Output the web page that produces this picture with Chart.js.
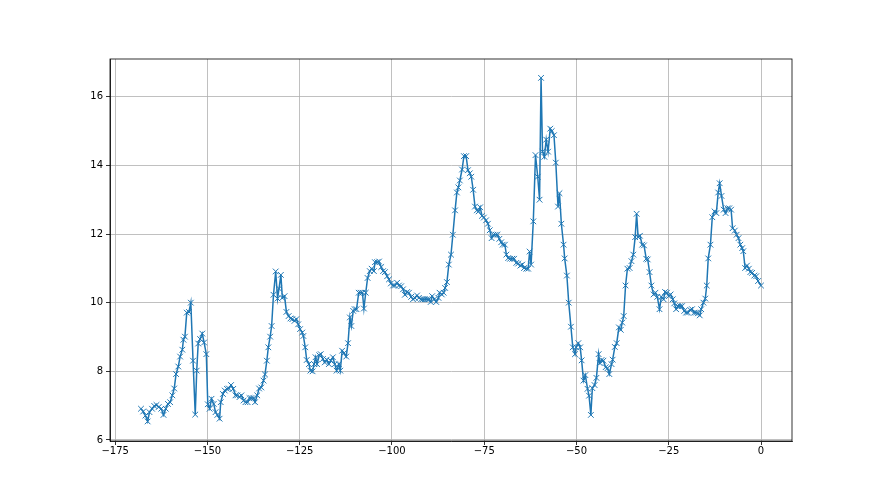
<!DOCTYPE html>
<html>
<head>
<meta charset="utf-8">
<script src="https://cdn.jsdelivr.net/npm/chart.js@4/dist/chart.umd.min.js"></script>
<style>
  html, body { margin: 0; padding: 0; background: #ffffff; }
  canvas { display: block; }
</style>
</head>
<body>
<canvas id="c" width="880" height="495"></canvas>
<script>
const xs = [
  -168, -167.4, -166.8, -166.2, -165.7, -165.0, -164.4, -163.8, -163.2, -162.5,
  -161.9, -161.3, -160.7, -160.1, -159.5, -159.0, -158.5, -157.9, -157.4, -156.8,
  -156.5, -156.1, -155.6, -155.0, -154.5, -153.9, -153.3, -152.9, -152.5, -152.0,
  -151.4, -150.9, -150.3, -149.9, -149.4, -148.9, -148.3, -147.8, -147.3, -146.7,
  -146.4, -145.8, -145.3, -144.7, -144.2, -143.6, -143.0, -142.4, -141.9, -141.3,
  -140.8, -140.2, -139.7, -139.1, -138.6, -138.1, -137.5, -137.1, -136.5, -136.0,
  -135.4, -134.8, -134.4, -133.9, -133.5, -133.0, -132.6, -132.1, -131.5, -131.0,
  -130.6, -130.1, -129.7, -129.1, -128.6, -128.0, -127.5, -127.0, -126.4, -125.9,
  -125.4, -124.9, -124.3, -124.0, -123.5, -123.1, -122.5, -122.1, -121.5, -121.1,
  -120.7, -120.3, -119.7, -119.3, -118.7, -118.2, -117.7, -117.1, -116.6, -116.0,
  -115.5, -115.0, -114.4, -114.0, -113.5, -113.0, -112.4, -111.9, -111.4, -111.0,
  -110.5, -110.1, -109.6, -109.0, -108.5, -108.0, -107.6, -107.1, -106.6, -106.0,
  -105.5, -104.9, -104.6, -104.0, -103.5, -102.9, -102.4, -101.9, -101.3, -100.8,
  -100.3, -99.7, -99.2, -98.6, -98.1, -97.5, -97.0, -96.5, -95.9, -95.4,
  -94.8, -94.3, -93.8, -93.2, -92.7, -92.1, -91.6, -91.1, -90.5, -90.0,
  -89.5, -89.1, -88.5, -88.0, -87.4, -87.1, -86.5, -86.0, -85.6, -85.1,
  -84.6, -84.0, -83.5, -82.9, -82.4, -82.0, -81.6, -81.0, -80.5, -79.9,
  -79.4, -78.9, -78.5, -78.0, -77.5, -77.0, -76.5, -76.1, -75.6, -75.1,
  -74.5, -74.0, -73.5, -73.0, -72.5, -71.9, -71.4, -70.9, -70.4, -70.0,
  -69.4, -69.0, -68.5, -68.0, -67.4, -66.9, -66.3, -65.8, -65.2, -64.7,
  -64.2, -63.6, -63.1, -62.7, -62.3, -61.7, -61.1, -60.5, -60.0, -59.6,
  -59.2, -58.7, -58.2, -57.7, -57.1, -56.7, -56.1, -55.6, -55.0, -54.6,
  -54.1, -53.5, -53.2, -52.6, -52.1, -51.5, -51.0, -50.4, -50.1, -49.5,
  -49.0, -48.6, -48.1, -47.6, -47.0, -46.6, -46.1, -45.7, -45.1, -44.6,
  -44.0, -43.7, -43.2, -42.7, -42.1, -41.6, -41.1, -40.5, -40.2, -39.6,
  -39.1, -38.5, -38.0, -37.6, -37.2, -36.7, -36.2, -35.6, -35.1, -34.6,
  -34.1, -33.7, -33.3, -32.8, -32.2, -31.7, -31.1, -30.7, -30.2, -29.7,
  -29.1, -28.6, -28.1, -27.5, -27.0, -26.4, -26.0, -25.5, -25.0, -24.5,
  -23.9, -23.5, -23.0, -22.5, -21.9, -21.4, -20.8, -20.3, -19.8, -19.2,
  -18.7, -18.1, -17.6, -17.1, -16.6, -16.2, -15.6, -15.1, -14.7, -14.3,
  -13.7, -13.2, -12.6, -12.1, -11.6, -11.2, -10.7, -10.1, -9.6, -9.1,
  -8.6, -8.1, -7.7, -7.1, -6.6, -6.1, -5.6, -5.1, -4.8, -4.3,
  -3.8, -3.3, -2.9, -2.4, -1.8, -1.3, -0.8, 0
];

const values = [
  6.91, 6.83, 6.71, 6.54, 6.81, 6.91, 6.99, 7.02, 6.96, 6.91,
  6.73, 6.91, 7.05, 7.10, 7.30, 7.50, 7.92, 8.14, 8.43, 8.63,
  8.92, 9.01, 9.71, 9.73, 10.00, 8.31, 6.74, 8.02, 8.81, 8.94,
  9.10, 8.84, 8.50, 7.04, 6.91, 7.20, 7.05, 6.81, 6.73, 6.62,
  7.10, 7.34, 7.44, 7.49, 7.50, 7.60, 7.49, 7.30, 7.30, 7.25,
  7.30, 7.15, 7.10, 7.10, 7.22, 7.22, 7.22, 7.10, 7.30, 7.50,
  7.53, 7.73, 7.91, 8.31, 8.70, 9.01, 9.32, 10.23, 10.91, 10.12,
  10.41, 10.81, 10.14, 10.19, 9.73, 9.61, 9.54, 9.52, 9.47, 9.52,
  9.37, 9.23, 9.13, 9.03, 8.70, 8.33, 8.21, 8.02, 8.00, 8.21,
  8.41, 8.21, 8.47, 8.50, 8.36, 8.26, 8.34, 8.21, 8.31, 8.41,
  8.21, 8.02, 8.21, 8.02, 8.60, 8.53, 8.43, 8.82, 9.57, 9.32,
  9.76, 9.81, 9.81, 10.29, 10.29, 10.29, 9.83, 10.29, 10.72, 10.92,
  10.99, 10.92, 11.18, 11.18, 11.20, 11.04, 10.92, 10.89, 10.77, 10.68,
  10.56, 10.50, 10.50, 10.58, 10.50, 10.48, 10.39, 10.23, 10.31, 10.29,
  10.17, 10.10, 10.14, 10.21, 10.14, 10.10, 10.10, 10.10, 10.10, 10.10,
  10.02, 10.19, 10.10, 10.02, 10.14, 10.29, 10.24, 10.29, 10.43, 10.60,
  11.11, 11.40, 11.98, 12.69, 13.21, 13.36, 13.56, 13.88, 14.27, 14.27,
  13.86, 13.77, 13.67, 13.29, 12.80, 12.69, 12.66, 12.78, 12.53, 12.48,
  12.40, 12.30, 12.11, 11.88, 11.98, 11.98, 11.98, 11.86, 11.76, 11.69,
  11.69, 11.40, 11.30, 11.28, 11.28, 11.28, 11.16, 11.14, 11.08, 11.11,
  11.01, 10.99, 10.99, 11.49, 11.11, 12.37, 14.30, 13.67, 13.00, 16.55,
  14.40, 14.25, 14.75, 14.40, 15.07, 15.00, 14.88, 14.08, 12.80, 13.19,
  12.30, 11.69, 11.29, 10.79, 10.00, 9.30, 8.70, 8.50, 8.70, 8.82,
  8.70, 8.32, 7.73, 7.89, 7.49, 7.29, 6.73, 7.51, 7.60, 7.81,
  8.50, 8.24, 8.33, 8.31, 8.12, 8.09, 7.92, 8.21, 8.34, 8.71,
  8.82, 9.28, 9.21, 9.42, 9.61, 10.50, 10.99, 11.01, 11.21, 11.40,
  11.91, 12.59, 11.91, 11.95, 11.69, 11.67, 11.28, 11.26, 10.89, 10.50,
  10.24, 10.29, 10.17, 9.81, 10.17, 10.10, 10.31, 10.29, 10.19, 10.24,
  10.10, 9.98, 9.81, 9.90, 9.90, 9.90, 9.76, 9.71, 9.71, 9.79,
  9.81, 9.71, 9.71, 9.69, 9.63, 9.81, 10.00, 10.12, 10.50, 11.29,
  11.69, 12.49, 12.66, 12.61, 13.21, 13.48, 13.11, 12.71, 12.61, 12.75,
  12.75, 12.71, 12.17, 12.10, 11.98, 11.88, 11.69, 11.59, 11.50, 11.01,
  11.08, 10.99, 10.89, 10.87, 10.79, 10.77, 10.63, 10.50
];

const xTicks = [-175, -150, -125, -100, -75, -50, -25, 0];
const yTicks = [6, 8, 10, 12, 14, 16];

const fmt = v => (v < 0 ? '\u2212' + Math.abs(v) : String(v));

const framePlugin = {
  id: 'frame',
  afterDraw(chart) {
    const a = chart.chartArea;
    const ctx = chart.ctx;
    ctx.save();
    ctx.strokeStyle = '#000000';
    ctx.lineWidth = 0.8;
    ctx.strokeRect(a.left, a.top, a.right - a.left, a.bottom - a.top);
    ctx.restore();
  }
};

new Chart(document.getElementById('c'), {
  type: 'scatter',
  data: {
    datasets: [{
      data: xs.map((x, i) => ({ x: x, y: values[i] })),
      showLine: true,
      borderColor: '#1f77b4',
      backgroundColor: '#1f77b4',
      borderWidth: 1.5,
      tension: 0,
      pointStyle: 'crossRot',
      pointRadius: 4,
      pointBorderWidth: 1,
      pointBorderColor: '#1f77b4',
      pointHoverRadius: 4
    }]
  },
  options: {
    responsive: false,
    animation: false,
    devicePixelRatio: 1,
    layout: { padding: { left: 0, top: 59, right: 88, bottom: 0 } },
    plugins: { legend: { display: false }, tooltip: { enabled: false } },
    scales: {
      x: {
        type: 'linear',
        position: 'bottom',
        min: -176.4,
        max: 8.4,
        afterFit: s => { s.height = 54; },
        afterBuildTicks: s => { s.ticks = xTicks.map(v => ({ value: v })); },
        grid: { color: '#b0b0b0', lineWidth: 0.8, tickLength: 4, tickColor: '#000000', tickWidth: 0.8 },
        border: { display: true, color: '#000000', width: 0.8 },
        ticks: {
          color: '#000000',
          font: { family: 'DejaVu Sans', size: 10 },
          padding: 0,
          maxRotation: 0,
          autoSkip: false,
          callback: v => fmt(v)
        }
      },
      y: {
        type: 'linear',
        position: 'left',
        min: 5.97,
        max: 17.1,
        afterFit: s => { s.width = 110; },
        afterBuildTicks: s => { s.ticks = yTicks.map(v => ({ value: v })); },
        grid: { color: '#b0b0b0', lineWidth: 0.8, tickLength: 4, tickColor: '#000000', tickWidth: 0.8 },
        border: { display: true, color: '#000000', width: 0.8 },
        ticks: {
          color: '#000000',
          font: { family: 'DejaVu Sans', size: 10 },
          padding: 3,
          autoSkip: false,
          callback: v => fmt(v)
        }
      }
    }
  },
  plugins: [framePlugin]
});
</script>
</body>
</html>
